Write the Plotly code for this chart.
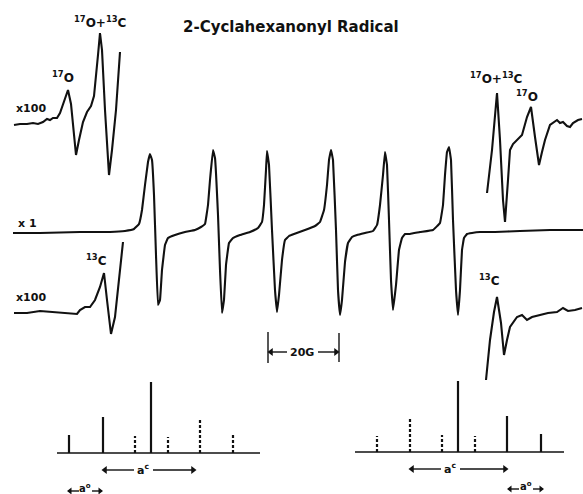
import plotly.graph_objects as go

W, H = 583, 494
INK = "#111111"

# ---- traced spectra (x, y, in picture units) ----
x1_x = [13, 40, 80, 110, 125, 134, 139, 142, 145, 148, 150, 152, 154, 156, 158, 160, 162, 165, 168, 175, 185, 195, 201, 205, 208, 210, 213, 215, 218, 220, 222, 224, 226, 229, 233, 240, 250, 258, 262, 264, 266, 267, 269, 272, 275, 277, 279, 282, 285, 289, 294, 305, 315, 320, 324, 327, 329, 331, 333, 336, 338, 340, 342, 345, 348, 352, 357, 365, 373, 377, 380, 383, 385, 387, 389, 391, 393, 396, 399, 402, 405, 410, 420, 433, 440, 443, 445, 447, 449, 451, 453, 456, 458, 460, 462, 464, 467, 472, 480, 495, 520, 550, 583]
x1_y = [233, 233, 232, 232, 231, 229, 224, 210, 185, 162, 154, 160, 195, 255, 305, 300, 270, 245, 238, 235, 232, 230, 227, 224, 205, 180, 150, 158, 215, 270, 313, 300, 265, 243, 238, 235, 232, 228, 222, 205, 170, 151, 165, 230, 290, 312, 295, 260, 240, 236, 234, 230, 226, 222, 210, 185, 160, 150, 160, 230, 290, 315, 300, 262, 243, 237, 235, 233, 231, 225, 205, 175, 152, 165, 220, 280, 310, 285, 250, 238, 234, 234, 232, 230, 223, 205, 175, 152, 147, 160, 220, 290, 315, 290, 250, 238, 234, 233, 232, 232, 231, 230, 230]

top_left_x = [14, 20, 27, 33, 38, 43, 47, 50, 53, 57, 60, 63, 66, 68, 71, 74, 76, 79, 83, 87, 91, 94, 96, 98, 100, 102, 105, 109, 112, 116, 120]
top_left_y = [125, 124, 124, 123, 124, 122, 119, 120, 118, 118, 113, 104, 95, 90, 104, 135, 155, 140, 122, 112, 106, 96, 78, 55, 33, 50, 110, 175, 150, 110, 52]

top_right_x = [487, 492, 497, 500, 503, 505, 508, 510, 513, 517, 522, 527, 531, 535, 539, 542, 545, 550, 554, 557, 560, 563, 567, 570, 573, 575, 578, 582]
top_right_y = [193, 150, 93, 140, 200, 222, 180, 150, 144, 140, 135, 117, 107, 137, 165, 152, 140, 125, 122, 120, 123, 122, 126, 127, 123, 122, 120, 119]

bot_left_x = [14, 27, 40, 53, 67, 77, 80, 85, 90, 95, 100, 104, 107, 111, 115, 120, 123]
bot_left_y = [313, 313, 311, 312, 313, 314, 310, 307, 307, 300, 287, 273, 300, 334, 317, 273, 242]

bot_right_x = [486, 490, 494, 497, 501, 504, 507, 510, 517, 522, 527, 532, 540, 548, 557, 563, 568, 575, 582]
bot_right_y = [380, 340, 312, 297, 323, 355, 340, 327, 317, 315, 320, 317, 315, 313, 312, 308, 311, 310, 308]

# ---- stick diagrams ----
left_base = [57, 260, 453]
left_sticks_x = [69, 103, 135, 151, 168, 200, 233]
left_sticks_top = [435, 417, 436, 382, 437, 418, 434]
left_sticks_dashed = [False, False, True, False, True, True, True]

right_base = [355, 564, 452]
right_sticks_x = [377, 410, 442, 458, 475, 507, 541]
right_sticks_top = [436, 417, 435, 381, 436, 416, 434]
right_sticks_dashed = [True, True, True, False, True, False, False]

FONT = "DejaVu Sans"

fig = go.Figure()

def line(xs, ys, width=2.1, smooth=True):
    ln = dict(color=INK, width=width)
    if smooth:
        ln.update(shape="spline", smoothing=0.2)
    fig.add_trace(go.Scatter(x=xs, y=ys, mode="lines", line=ln,
                             hoverinfo="skip", showlegend=False))

def straight(xs, ys, width=1.6, dash=None):
    fig.add_trace(go.Scatter(x=xs, y=ys, mode="lines",
                             line=dict(color=INK, width=width, dash=dash),
                             hoverinfo="skip", showlegend=False))

line(x1_x, x1_y)
line(top_left_x, top_left_y, smooth=False)
line(top_right_x, top_right_y, smooth=False)
line(bot_left_x, bot_left_y, smooth=False)
line(bot_right_x, bot_right_y, smooth=False)

for base, sx, st, sd in [(left_base, left_sticks_x, left_sticks_top, left_sticks_dashed),
                         (right_base, right_sticks_x, right_sticks_top, right_sticks_dashed)]:
    straight([base[0], base[1]], [base[2], base[2]], width=1.6)
    for x, t, d in zip(sx, st, sd):
        straight([x, x], [base[2], t], width=2.2, dash="3px,2px" if d else None)

# scale bar 20G
straight([268, 268], [332, 363], width=1.4)
straight([339, 339], [333, 362], width=1.4)

def arrow(x_from, x_to, y, size=7):
    straight([x_from, x_to], [y, y], width=1.4)
    sym = "triangle-left" if x_to < x_from else "triangle-right"
    fig.add_trace(go.Scatter(x=[x_to - (2 if x_to > x_from else -2)], y=[y], mode="markers",
                             marker=dict(symbol=sym, size=size, color=INK, line=dict(width=0)),
                             hoverinfo="skip", showlegend=False))

arrow(287, 269, 352)
arrow(318, 338, 352)
# a^c arrows
arrow(134, 103, 470)
arrow(153, 195, 470)
arrow(441, 410, 469)
arrow(460, 507, 469)
# a^o arrows
arrow(79, 68, 491, size=6)
arrow(92, 102, 491, size=6)
arrow(519, 508, 489, size=6)
arrow(533, 543, 489, size=6)

def text(x, y, s, size=12, xanchor="center"):
    fig.add_annotation(x=x, y=y, xref="x", yref="y", text=s, showarrow=False,
                       xanchor=xanchor, yanchor="middle",
                       font=dict(family=FONT, size=size, color=INK))

text(291, 27, "<b>2-Cyclahexanonyl Radical</b>", size=15)
text(100, 22, "<b><sup>17</sup>O+<sup>13</sup>C</b>", size=12)
text(63, 77, "<b><sup>17</sup>O</b>", size=12)
text(14, 108, "<b>x100</b>", size=11, xanchor="left")
text(16, 223, "<b>x 1</b>", size=11, xanchor="left")
text(14, 297, "<b>x100</b>", size=11, xanchor="left")
text(96, 260, "<b><sup>13</sup>C</b>", size=12)
text(496, 78, "<b><sup>17</sup>O+<sup>13</sup>C</b>", size=12)
text(527, 96, "<b><sup>17</sup>O</b>", size=12)
text(489, 280, "<b><sup>13</sup>C</b>", size=12)
text(302, 352, "<b>20G</b>", size=11)
text(143, 469, "<b>a<sup>c</sup></b>", size=11)
text(450, 468, "<b>a<sup>c</sup></b>", size=11)
text(85, 488, "<b>a<sup>o</sup></b>", size=10)
text(526, 486, "<b>a<sup>o</sup></b>", size=10)

fig.update_layout(width=W, height=H, margin=dict(l=0, r=0, t=0, b=0),
                  paper_bgcolor="white", plot_bgcolor="white",
                  xaxis=dict(range=[0, W], visible=False, fixedrange=True),
                  yaxis=dict(range=[H, 0], visible=False, fixedrange=True))

fig.write_html("out.html", config={"displayModeBar": False},
               post_script="document.body.style.margin='0';document.body.style.overflow='hidden';")
